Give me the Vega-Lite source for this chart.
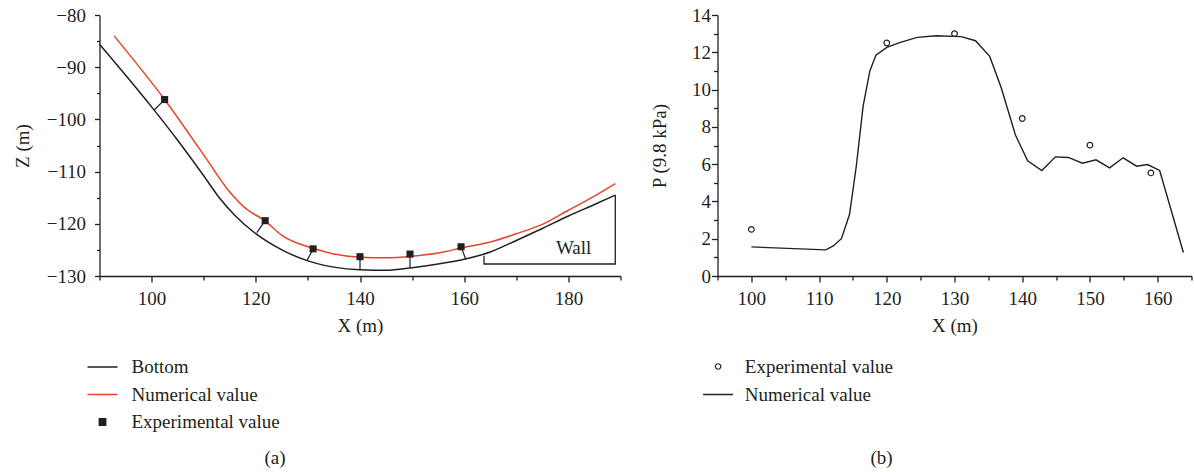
{
  "$schema": "https://vega.github.io/schema/vega-lite/v6.json",
  "padding": {"left": 12.5, "top": 6, "right": 0, "bottom": 0},
  "background": "white",
  "spacing": 97,
  "bounds": "flush",
  "datasets": {
    "bottom": [
      {"X": 90, "Z": -85.6, "series": "Bottom"},
      {"X": 100, "Z": -97.6, "series": "Bottom"},
      {"X": 105, "Z": -104.0, "series": "Bottom"},
      {"X": 110, "Z": -110.8, "series": "Bottom"},
      {"X": 113, "Z": -115.0, "series": "Bottom"},
      {"X": 116, "Z": -118.4, "series": "Bottom"},
      {"X": 120, "Z": -121.9, "series": "Bottom"},
      {"X": 125, "Z": -125.0, "series": "Bottom"},
      {"X": 130, "Z": -127.1, "series": "Bottom"},
      {"X": 135, "Z": -128.3, "series": "Bottom"},
      {"X": 140, "Z": -128.8, "series": "Bottom"},
      {"X": 145, "Z": -128.9, "series": "Bottom"},
      {"X": 150, "Z": -128.4, "series": "Bottom"},
      {"X": 155, "Z": -127.7, "series": "Bottom"},
      {"X": 160, "Z": -126.8, "series": "Bottom"},
      {"X": 165, "Z": -125.4, "series": "Bottom"},
      {"X": 170, "Z": -123.2, "series": "Bottom"},
      {"X": 175, "Z": -120.9, "series": "Bottom"},
      {"X": 180, "Z": -118.5, "series": "Bottom"},
      {"X": 185, "Z": -116.3, "series": "Bottom"},
      {"X": 189, "Z": -114.5, "series": "Bottom"},
      {"X": 92.8, "Z": -84.0, "series": "Numerical value"},
      {"X": 102.5, "Z": -96.2, "series": "Numerical value"},
      {"X": 110, "Z": -106.8, "series": "Numerical value"},
      {"X": 115, "Z": -113.9, "series": "Numerical value"},
      {"X": 118, "Z": -117.0, "series": "Numerical value"},
      {"X": 121.7, "Z": -119.4, "series": "Numerical value"},
      {"X": 125, "Z": -122.2, "series": "Numerical value"},
      {"X": 131, "Z": -124.7, "series": "Numerical value"},
      {"X": 135, "Z": -125.8, "series": "Numerical value"},
      {"X": 140, "Z": -126.4, "series": "Numerical value"},
      {"X": 145, "Z": -126.5, "series": "Numerical value"},
      {"X": 150, "Z": -126.2, "series": "Numerical value"},
      {"X": 155, "Z": -125.6, "series": "Numerical value"},
      {"X": 160, "Z": -124.5, "series": "Numerical value"},
      {"X": 165, "Z": -123.5, "series": "Numerical value"},
      {"X": 170, "Z": -121.9, "series": "Numerical value"},
      {"X": 175, "Z": -120.1, "series": "Numerical value"},
      {"X": 180, "Z": -117.4, "series": "Numerical value"},
      {"X": 185, "Z": -114.7, "series": "Numerical value"},
      {"X": 189, "Z": -112.3, "series": "Numerical value"}
    ],
    "wall": [
      {"k": 1, "X": 163.8, "Z": -126.1},
      {"k": 2, "X": 163.8, "Z": -127.7},
      {"k": 3, "X": 189, "Z": -127.7},
      {"k": 4, "X": 189, "Z": -114.5}
    ],
    "expA": [
      {"X": 102.5, "Z": -96.2, "X2": 100.5, "Z2": -98.2, "series": "Experimental value"},
      {"X": 121.8, "Z": -119.4, "X2": 120.2, "Z2": -121.7, "series": "Experimental value"},
      {"X": 131, "Z": -124.8, "X2": 129.8, "Z2": -127.1, "series": "Experimental value"},
      {"X": 140, "Z": -126.3, "X2": 140, "Z2": -128.8, "series": "Experimental value"},
      {"X": 149.6, "Z": -125.8, "X2": 149.6, "Z2": -128.4, "series": "Experimental value"},
      {"X": 159.4, "Z": -124.4, "X2": 160.3, "Z2": -126.8, "series": "Experimental value"}
    ],
    "label": [{"X": 181, "Z": -124.6, "t": "Wall"}],
    "numB": [
      {"X": 100, "P": 1.56}, {"X": 111, "P": 1.40}, {"X": 112.1, "P": 1.61},
      {"X": 113.3, "P": 2.0}, {"X": 114.5, "P": 3.31}, {"X": 115.5, "P": 5.9},
      {"X": 116.5, "P": 9.1}, {"X": 117.5, "P": 11.0}, {"X": 118.4, "P": 11.85},
      {"X": 120, "P": 12.26}, {"X": 122, "P": 12.53}, {"X": 124.5, "P": 12.8},
      {"X": 127.3, "P": 12.89}, {"X": 131, "P": 12.84}, {"X": 133.1, "P": 12.62},
      {"X": 135.2, "P": 11.78}, {"X": 136.9, "P": 10.1}, {"X": 139, "P": 7.56},
      {"X": 140.8, "P": 6.18}, {"X": 142.9, "P": 5.66}, {"X": 144.9, "P": 6.39},
      {"X": 146.8, "P": 6.36}, {"X": 148.9, "P": 6.05}, {"X": 150.9, "P": 6.23},
      {"X": 152.9, "P": 5.80}, {"X": 154.9, "P": 6.34}, {"X": 156.9, "P": 5.89},
      {"X": 158.5, "P": 5.98}, {"X": 160.3, "P": 5.66}, {"X": 163.8, "P": 1.26}
    ],
    "expB": [
      {"X": 100, "P": 2.5}, {"X": 120, "P": 12.5}, {"X": 130, "P": 13.0},
      {"X": 140, "P": 8.45}, {"X": 150, "P": 7.02}, {"X": 159, "P": 5.53}
    ]
  },
  "hconcat": [
    {
      "width": 521,
      "height": 261,
      "title": {"text": "(a)", "orient": "bottom", "frame": "group", "anchor": "middle", "dx": -85, "offset": 17},
      "encoding": {
        "x": {"field": "X", "type": "quantitative", "title": "X (m)",
          "scale": {"domain": [90, 190], "nice": false, "zero": false},
          "axis": {"values": [90, 100, 110, 120, 130, 140, 150, 160, 170, 180, 190],
            "labelExpr": "datum.value % 20 == 0 ? datum.label : ''",
            "tickSize": {"condition": {"test": "datum.value % 20 == 0", "value": 6}, "value": 4},
            "labelPadding": 7, "titlePadding": 8}},
        "y": {"field": "Z", "type": "quantitative", "title": "Z (m)",
          "scale": {"domain": [-130, -80], "nice": false, "zero": false},
          "axis": {"values": [-130, -125, -120, -115, -110, -105, -100, -95, -90, -85, -80],
            "labelExpr": "datum.value % 10 == 0 ? datum.label : ''",
            "tickSize": {"condition": {"test": "datum.value % 10 == 0", "value": 5}, "value": 3},
            "labelPadding": 9, "titlePadding": 14}}
      },
      "layer": [
        {
          "data": {"name": "wall"},
          "mark": {"type": "line", "color": "#231f20", "strokeWidth": 1.3},
          "encoding": {"order": {"field": "k", "type": "quantitative"}}
        },
        {
          "data": {"name": "expA"},
          "mark": {"type": "rule", "color": "#231f20", "strokeWidth": 1.2},
          "encoding": {"x2": {"field": "X2"}, "y2": {"field": "Z2"}}
        },
        {
          "data": {"name": "bottom"},
          "mark": {"type": "line", "interpolate": "monotone", "strokeWidth": 1.5},
          "encoding": {
            "color": {"field": "series", "type": "nominal",
              "scale": {"domain": ["Bottom", "Numerical value", "Experimental value"], "range": ["#231f20", "#e8432b", "#231f20"]},
              "legend": {
                "orient": "none", "legendX": -13, "legendY": 336, "title": null, "direction": "vertical",
                "values": ["Bottom", "Numerical value", "Experimental value"],
                "symbolSize": 729, "rowPadding": 1.5, "labelOffset": 13, "padding": 0,
                "labelFontSize": 19, "labelColor": "#231f20", "labelLimit": 0,
                "encode": {"symbols": {"update": {
                  "shape": {"signal": "datum.value === 'Experimental value' ? 'square' : 'stroke'"},
                  "size": {"signal": "datum.value === 'Experimental value' ? 40 : 900"},
                  "fill": {"signal": "datum.value === 'Experimental value' ? '#231f20' : 'transparent'"},
                  "stroke": {"signal": "datum.value === 'Experimental value' ? 'transparent' : (datum.value === 'Bottom' ? '#231f20' : '#e8432b')"},
                  "strokeWidth": {"value": 1.5},
                  "opacity": {"value": 1}
                }}}
              }}
          }
        },
        {
          "data": {"name": "expA"},
          "mark": {"type": "point", "shape": "square", "filled": true, "size": 50, "opacity": 1},
          "encoding": {
            "color": {"field": "series", "type": "nominal",
              "scale": {"domain": ["Bottom", "Numerical value", "Experimental value"], "range": ["#231f20", "#e8432b", "#231f20"]},
              "legend": {
                "orient": "none", "legendX": -13, "legendY": 336, "title": null, "direction": "vertical",
                "values": ["Bottom", "Numerical value", "Experimental value"],
                "symbolSize": 729, "rowPadding": 1.5, "labelOffset": 13, "padding": 0,
                "labelFontSize": 19, "labelColor": "#231f20", "labelLimit": 0,
                "encode": {"symbols": {"update": {
                  "shape": {"signal": "datum.value === 'Experimental value' ? 'square' : 'stroke'"},
                  "size": {"signal": "datum.value === 'Experimental value' ? 40 : 900"},
                  "fill": {"signal": "datum.value === 'Experimental value' ? '#231f20' : 'transparent'"},
                  "stroke": {"signal": "datum.value === 'Experimental value' ? 'transparent' : (datum.value === 'Bottom' ? '#231f20' : '#e8432b')"},
                  "strokeWidth": {"value": 1.5},
                  "opacity": {"value": 1}
                }}}
              }}
          }
        },
        {
          "data": {"name": "label"},
          "mark": {"type": "text", "fontSize": 19, "color": "#231f20", "baseline": "middle", "align": "center"},
          "encoding": {"text": {"field": "t"}}
        }
      ]
    },
    {
      "width": 474,
      "height": 261,
      "title": {"text": "(b)", "orient": "bottom", "frame": "group", "anchor": "middle", "dx": -73, "offset": 44},
      "encoding": {
        "x": {"field": "X", "type": "quantitative", "title": "X (m)",
          "scale": {"domain": [95, 165], "nice": false, "zero": false},
          "axis": {"values": [95, 100, 105, 110, 115, 120, 125, 130, 135, 140, 145, 150, 155, 160, 165],
            "labelExpr": "datum.value % 10 == 0 ? datum.label : ''",
            "tickSize": {"condition": {"test": "datum.value % 10 == 0", "value": 6}, "value": 4},
            "labelPadding": 7, "titlePadding": 8}},
        "y": {"field": "P", "type": "quantitative", "title": "P (9.8 kPa)",
          "scale": {"domain": [0, 14], "nice": false},
          "axis": {"values": [0, 1, 2, 3, 4, 5, 6, 7, 8, 9, 10, 11, 12, 13, 14],
            "labelExpr": "datum.value % 2 == 0 ? datum.label : ''",
            "tickSize": {"condition": {"test": "datum.value % 2 == 0", "value": 6}, "value": 4},
            "labelPadding": 1, "titlePadding": 22}}
      },
      "layer": [
        {
          "data": {"name": "numB"},
          "transform": [{"calculate": "'Numerical value'", "as": "series"}],
          "mark": {"type": "line", "strokeWidth": 1.4},
          "encoding": {
            "color": {"field": "series", "type": "nominal",
              "scale": {"domain": ["Experimental value", "Numerical value"], "range": ["#231f20", "#231f20"]},
              "legend": {
                "orient": "none", "legendX": -13, "legendY": 342, "title": null, "direction": "vertical",
                "values": ["Experimental value", "Numerical value"],
                "symbolSize": 729, "rowPadding": 8, "labelOffset": 13, "padding": 0,
                "labelFontSize": 19, "labelColor": "#231f20", "labelLimit": 0,
                "encode": {
                  "symbols": {"update": {
                    "x": {"value": 13.6},
                    "shape": {"signal": "datum.value === 'Experimental value' ? 'circle' : 'stroke'"},
                    "size": {"signal": "datum.value === 'Experimental value' ? 30 : 900"},
                    "fill": {"value": "transparent"},
                    "stroke": {"value": "#231f20"},
                    "strokeWidth": {"signal": "datum.value === 'Experimental value' ? 1.2 : 1.5"},
                    "opacity": {"value": 1}
                  }},
                  "labels": {"update": {"x": {"value": 40.3}}}
                }
              }}
          }
        },
        {
          "data": {"name": "expB"},
          "transform": [{"calculate": "'Experimental value'", "as": "series"}],
          "mark": {"type": "point", "shape": "circle", "filled": false, "size": 32, "strokeWidth": 1.2, "opacity": 1},
          "encoding": {
            "color": {"field": "series", "type": "nominal",
              "scale": {"domain": ["Experimental value", "Numerical value"], "range": ["#231f20", "#231f20"]},
              "legend": {
                "orient": "none", "legendX": -13, "legendY": 342, "title": null, "direction": "vertical",
                "values": ["Experimental value", "Numerical value"],
                "symbolSize": 729, "rowPadding": 8, "labelOffset": 13, "padding": 0,
                "labelFontSize": 19, "labelColor": "#231f20", "labelLimit": 0,
                "encode": {
                  "symbols": {"update": {
                    "x": {"value": 13.6},
                    "shape": {"signal": "datum.value === 'Experimental value' ? 'circle' : 'stroke'"},
                    "size": {"signal": "datum.value === 'Experimental value' ? 30 : 900"},
                    "fill": {"value": "transparent"},
                    "stroke": {"value": "#231f20"},
                    "strokeWidth": {"signal": "datum.value === 'Experimental value' ? 1.2 : 1.5"},
                    "opacity": {"value": 1}
                  }},
                  "labels": {"update": {"x": {"value": 40.3}}}
                }
              }}
          }
        }
      ]
    }
  ],
  "resolve": {"scale": {"color": "independent"}, "legend": {"color": "independent"}},
  "config": {
    "font": "Liberation Serif",
    "view": {"stroke": null},
    "title": {"font": "Liberation Serif", "fontSize": 19, "fontWeight": "normal", "color": "#231f20"},
    "legend": {"labelFont": "Liberation Serif"},
    "axis": {
      "grid": false, "domainColor": "#231f20", "tickColor": "#231f20", "labelColor": "#231f20", "titleColor": "#231f20",
      "labelFont": "Liberation Serif", "titleFont": "Liberation Serif", "labelFontSize": 19, "titleFontSize": 19,
      "titleFontWeight": "normal", "domainWidth": 1.3, "tickWidth": 1.3, "labelFlush": false, "labelOverlap": false
    }
  }
}
